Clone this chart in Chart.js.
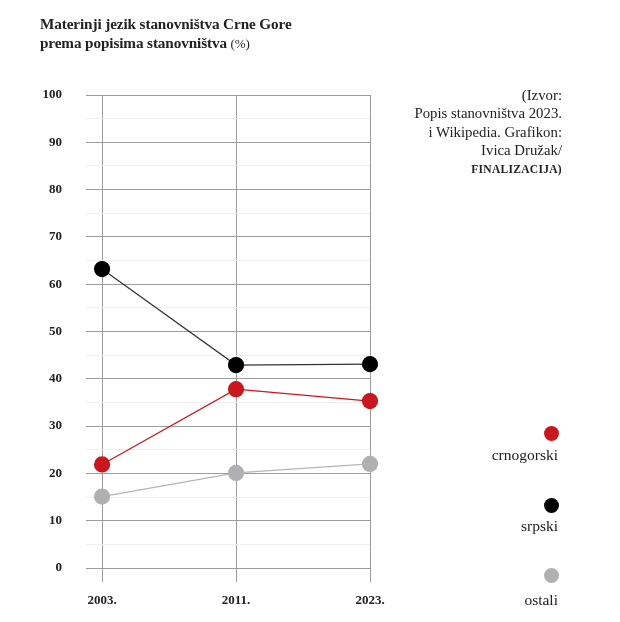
<!DOCTYPE html>
<html>
<head>
<meta charset="utf-8">
<script src="https://cdn.jsdelivr.net/npm/chart.js@4"></script>
<style>
  body { margin: 0; background: #fff; }
  #wrap { position: relative; width: 620px; height: 622px; font-family: "Liberation Serif", serif; color: #222; }
  #chartBox { position: absolute; left: 0; top: 0; width: 620px; height: 622px; }
  .title { position: absolute; left: 40px; top: 14px; font-size: 15.2px; font-weight: bold; line-height: 19px; letter-spacing: -0.1px; }
  .title span { font-weight: normal; font-size: 13px; }
  .source { position: absolute; right: 58px; top: 86px; text-align: right; font-size: 14.8px; line-height: 18.3px; }
  .source .sc { font-size: 11.5px; font-weight: bold; letter-spacing: 0.3px; }
  .leg { position: absolute; right: 62px; text-align: right; font-size: 15.5px; }
  .dot { position: absolute; width: 15px; height: 15px; border-radius: 50%; }
</style>
</head>
<body>
<div id="wrap">
  <div id="chartBox"><canvas id="jezikChart"></canvas></div>
  <div class="title">Materinji jezik stanovništva Crne Gore<br>prema popisima stanovništva <span>(%)</span></div>
  <div class="source">(Izvor:<br>Popis stanovništva 2023.<br>i Wikipedia. Grafikon:<br>Ivica Družak/<br><span class="sc">FINALIZACIJA)</span></div>
  <div id="legend"></div>
</div>
<script>
const godine = ['2003.', '2011.', '2023.'];
const crnogorski = [21.9, 37.8, 35.3];
const srpski = [63.2, 42.9, 43.1];
const ostali = [15.1, 20.1, 22.0];
const yTicks = [0, 10, 20, 30, 40, 50, 60, 70, 80, 90, 100];

const serije = [
    { label: 'crnogorski', data: crnogorski, color: '#c8171e', line: '#c8171e', dotY: 426, textY: 446 },
    { label: 'srpski', data: srpski, color: '#000000', line: '#333333', dotY: 498, textY: 517 },
    { label: 'ostali', data: ostali, color: '#b0b0b3', line: '#b5b5b8', dotY: 568, textY: 591 }
];

// legenda desno
const legend = document.getElementById('legend');
serije.forEach(s => {
    const d = document.createElement('div');
    d.className = 'dot';
    d.style.left = '544px';
    d.style.top = s.dotY + 'px';
    d.style.background = s.color;
    legend.appendChild(d);
    const t = document.createElement('div');
    t.className = 'leg';
    t.style.top = s.textY + 'px';
    t.textContent = s.label;
    legend.appendChild(t);
});

const ctx = document.getElementById('jezikChart').getContext('2d');
new Chart(ctx, {
    type: 'line',
    data: {
        datasets: serije.map(s => ({
            label: s.label,
            data: s.data.map((v, i) => ({ x: i, y: v })),
            borderColor: s.line,
            backgroundColor: s.color,
            pointBackgroundColor: s.color,
            pointBorderColor: s.color,
            pointRadius: 7.5,
            pointHoverRadius: 7.5,
            borderWidth: 1.2,
            tension: 0,
            clip: false
        })).reverse()
    },
    options: {
        responsive: true,
        maintainAspectRatio: false,
        animation: false,
        layout: { padding: { left: 0, right: 250, top: 95, bottom: 0 } },
        plugins: {
            legend: { display: false },
            tooltip: { enabled: false }
        },
        scales: {
            x: {
                type: 'linear',
                min: -0.12,
                max: 2,
                afterBuildTicks: (scale) => {
                    scale.ticks = godine.map((g, i) => ({ value: i }));
                },
                afterFit: (scale) => { scale.height = 54; },
                border: { display: false },
                grid: {
                    color: '#9c9c9c',
                    lineWidth: 1,
                    drawTicks: true,
                    tickLength: 14,
                    tickColor: '#9c9c9c'
                },
                ticks: {
                    padding: 11,
                    color: '#222',
                    font: { family: 'Liberation Serif', size: 13, weight: 'bold' },
                    callback: (v) => godine[v] !== undefined ? godine[v] : ''
                }
            },
            y: {
                min: 0,
                max: 100,
                afterFit: (scale) => { scale.width = 86; },
                afterBuildTicks: (scale) => {
                    const t = [];
                    for (let v = 0; v <= 100; v += 5) t.push({ value: v });
                    scale.ticks = t;
                },
                border: { display: false },
                grid: {
                    drawTicks: false,
                    lineWidth: 1,
                    color: (c) => (c.tick && c.tick.value % 10 === 0) ? '#9c9c9c' : '#efefef'
                },
                ticks: {
                    padding: 24,
                    color: '#222',
                    font: { family: 'Liberation Serif', size: 13, weight: 'bold' },
                    callback: (v) => yTicks.includes(v) ? String(v) : ''
                }
            }
        }
    }
});
</script>
</body>
</html>
